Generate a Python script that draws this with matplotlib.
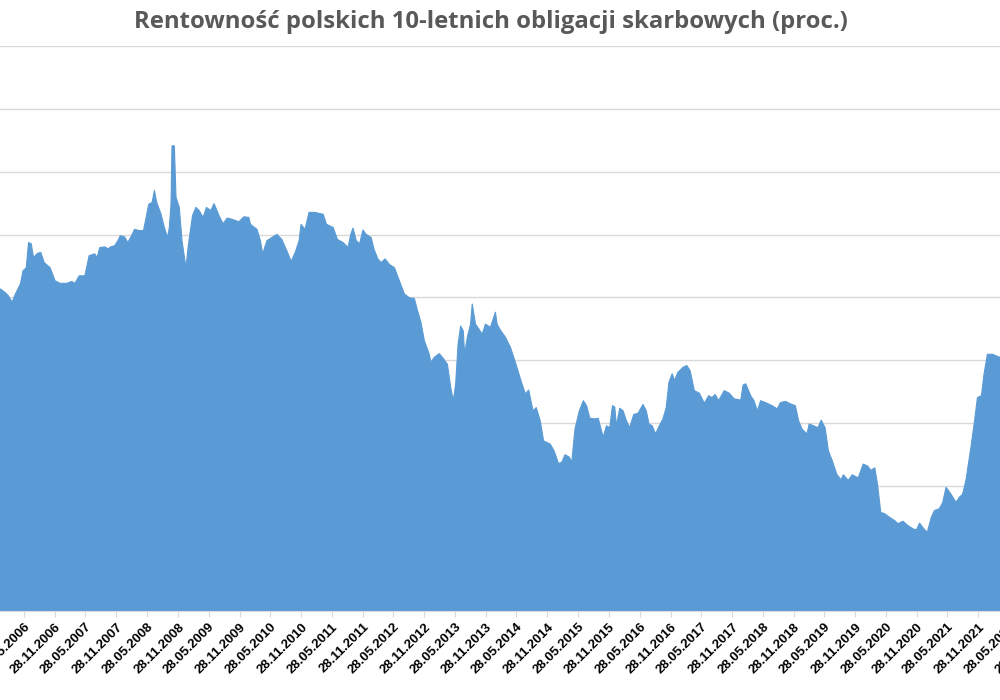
import pandas as pd
import matplotlib
matplotlib.use("Agg")
import matplotlib.pyplot as plt

# fractional years and yield in percent
years = [
    2006.016, 2006.096, 2006.145, 2006.205, 2006.258, 2006.339, 2006.382, 2006.435,
    2006.472, 2006.516, 2006.553, 2006.618, 2006.672, 2006.726, 2006.822, 2006.903,
    2006.984, 2007.092, 2007.174, 2007.226, 2007.295, 2007.387, 2007.456, 2007.548,
    2007.585, 2007.629, 2007.710, 2007.763, 2007.806, 2007.871, 2007.924, 2007.963,
    2008.032, 2008.085, 2008.156, 2008.193, 2008.274, 2008.339, 2008.382, 2008.424,
    2008.479, 2008.516, 2008.553, 2008.624, 2008.677, 2008.730, 2008.758, 2008.785,
    2008.801, 2008.839, 2008.866, 2008.919, 2008.963, 2009.027, 2009.069, 2009.134,
    2009.188, 2009.242, 2009.306, 2009.360, 2009.431, 2009.484, 2009.564, 2009.629,
    2009.698, 2009.779, 2009.887, 2009.968, 2010.048,
    2010.076, 2010.182, 2010.237, 2010.274, 2010.343, 2010.424, 2010.505, 2010.585,
    2010.666, 2010.737, 2010.802, 2010.866, 2010.898, 2010.963, 2011.027, 2011.124,
    2011.258, 2011.311, 2011.419, 2011.489, 2011.581, 2011.661, 2011.705, 2011.742,
    2011.795, 2011.850, 2011.903, 2011.956, 2012.037, 2012.081, 2012.145, 2012.198,
    2012.263, 2012.334, 2012.414, 2012.495, 2012.576, 2012.656, 2012.737, 2012.790,
    2012.844, 2012.898, 2012.979, 2013.005, 2013.060, 2013.140, 2013.194, 2013.274,
    2013.327, 2013.371, 2013.408, 2013.447, 2013.489, 2013.532, 2013.553, 2013.597,
    2013.650, 2013.677, 2013.731, 2013.786, 2013.839, 2013.892, 2013.973, 2014.054,
    2014.081,
    2014.131, 2014.217, 2014.298, 2014.379, 2014.459, 2014.540, 2014.595, 2014.664,
    2014.718, 2014.782, 2014.837, 2014.943, 2015.008, 2015.079, 2015.132, 2015.185,
    2015.256, 2015.294, 2015.347, 2015.418, 2015.483, 2015.536, 2015.589, 2015.670,
    2015.725, 2015.805, 2015.858, 2015.912, 2015.956, 2015.993, 2016.020, 2016.074,
    2016.128, 2016.182, 2016.235, 2016.300, 2016.370, 2016.451, 2016.504, 2016.548,
    2016.601, 2016.655, 2016.710, 2016.774, 2016.827, 2016.871, 2016.924, 2016.961,
    2017.016, 2017.097, 2017.161, 2017.215, 2017.284, 2017.365, 2017.446, 2017.516,
    2017.570, 2017.623, 2017.678, 2017.769, 2017.850, 2017.930, 2018.038, 2018.076,
    2018.119,
    2018.200, 2018.253, 2018.308, 2018.361, 2018.442, 2018.550, 2018.630, 2018.684,
    2018.764, 2018.845, 2018.926, 2018.979, 2019.034, 2019.114, 2019.151, 2019.221,
    2019.292, 2019.345, 2019.409, 2019.463, 2019.527, 2019.598, 2019.668, 2019.705,
    2019.786, 2019.850, 2019.947, 2020.028, 2020.099, 2020.152, 2020.216, 2020.260,
    2020.313, 2020.378, 2020.458, 2020.539, 2020.592, 2020.673, 2020.754, 2020.834,
    2020.889, 2020.942, 2020.995, 2021.066, 2021.131, 2021.184, 2021.264, 2021.318,
    2021.372, 2021.453, 2021.534, 2021.587, 2021.640, 2021.695, 2021.776, 2021.829,
    2021.882, 2021.947, 2021.990, 2022.044, 2022.125, 2022.250,
]

yields = [
    5.14, 5.08, 5.03, 4.93, 5.06, 5.22, 5.43, 5.48,
    5.88, 5.86, 5.64, 5.71, 5.72, 5.56, 5.48, 5.27,
    5.23, 5.23, 5.26, 5.23, 5.35, 5.35, 5.67, 5.70,
    5.64, 5.80, 5.81, 5.78, 5.81, 5.83, 5.91, 5.99,
    5.97, 5.88, 6.01, 6.09, 6.07, 6.07, 6.28, 6.49,
    6.52, 6.71, 6.52, 6.33, 6.12, 5.96, 6.12, 6.49,
    7.42, 7.42, 6.60, 6.44, 5.91, 5.48, 5.86, 6.31,
    6.44, 6.39, 6.28, 6.44, 6.39, 6.50, 6.31, 6.18,
    6.27, 6.25, 6.21, 6.29, 6.28,
    6.17, 6.09, 5.91, 5.70, 5.91, 5.96, 6.01, 5.93,
    5.75, 5.58, 5.72, 5.91, 6.17, 6.09, 6.36, 6.36,
    6.33, 6.17, 6.12, 5.93, 5.88, 5.80, 6.01, 6.11,
    5.91, 5.86, 6.08, 6.01, 5.96, 5.78, 5.62, 5.56,
    5.62, 5.53, 5.48, 5.27, 5.06, 5.00, 4.99, 4.79,
    4.61, 4.32, 4.10, 3.97, 4.05, 4.11, 4.05, 3.94,
    3.57, 3.36, 3.63, 4.26, 4.55, 4.47, 4.10, 4.37,
    4.58, 4.90, 4.58, 4.50, 4.42, 4.58, 4.53, 4.77,
    4.58,
    4.49, 4.37, 4.21, 3.97, 3.71, 3.47, 3.53, 3.20,
    3.25, 3.04, 2.72, 2.67, 2.56, 2.36, 2.38, 2.50,
    2.46, 2.38, 2.91, 3.20, 3.36, 3.28, 3.08, 3.07,
    3.08, 2.78, 2.96, 2.93, 3.28, 3.26, 2.96, 3.24,
    3.20, 3.04, 2.93, 3.14, 3.16, 3.30, 3.20, 2.99,
    2.96, 2.83, 2.95, 3.07, 3.25, 3.65, 3.79, 3.68,
    3.81, 3.89, 3.92, 3.84, 3.52, 3.48, 3.32, 3.44,
    3.41, 3.46, 3.36, 3.52, 3.48, 3.39, 3.37, 3.61,
    3.63,
    3.44, 3.36, 3.20, 3.36, 3.33, 3.28, 3.23, 3.33,
    3.35, 3.31, 3.28, 3.04, 2.91, 2.83, 2.99, 2.96,
    2.93, 3.05, 2.93, 2.56, 2.40, 2.19, 2.10, 2.18,
    2.09, 2.18, 2.13, 2.35, 2.32, 2.25, 2.29, 2.03,
    1.58, 1.56, 1.50, 1.45, 1.40, 1.44, 1.37, 1.32,
    1.30, 1.41, 1.34, 1.26, 1.50, 1.61, 1.64, 1.74,
    1.98, 1.87, 1.74, 1.82, 1.87, 2.09, 2.62, 2.99,
    3.41, 3.44, 3.79, 4.10, 4.10, 4.05,
]

tick_years = list(range(2006, 2023))
grid_levels = list(range(0, 10))


def to_date(t):
    y = int(t)
    start = pd.Timestamp(year=y, month=1, day=1)
    end = pd.Timestamp(year=y + 1, month=1, day=1)
    return start + (t - y) * (end - start)


dates = [to_date(t) for t in years]

ticks = []
labels = []
for y in tick_years:
    for m in (5, 11):
        d = pd.Timestamp(year=y, month=m, day=28)
        ticks.append(d)
        labels.append(d.strftime("%d.%m.%Y"))

fig = plt.figure(figsize=(10, 7), dpi=100)
ax = fig.add_axes([0.0, 0.127, 1.04, 0.807])

ax.fill_between(dates, yields, 0, color="#5b9bd5", linewidth=0.8,
                edgecolor="#5b9bd5", zorder=2)

ax.set_ylim(0, 9)
ax.set_xlim(to_date(2006.016), to_date(2022.795))

ax.set_yticks(grid_levels)
ax.yaxis.grid(True, color="#d9d9d9", linewidth=1.0, zorder=0)
ax.tick_params(axis="y", length=0, labelleft=False)

ax.set_xticks(ticks)
ax.set_xticklabels(labels, rotation=45, ha="right", rotation_mode="anchor",
                   fontsize=9.5, fontweight="bold", family="Liberation Sans",
                   color="black")
ax.tick_params(axis="x", length=4, color="#d9d9d9", pad=3)

for s in ["top", "left", "right"]:
    ax.spines[s].set_visible(False)
ax.spines["bottom"].set_color("#d9d9d9")

fig.text(0.491, 0.968, "Rentowność polskich 10-letnich obligacji skarbowych (proc.)",
         ha="center", va="center", fontsize=17.2, fontweight="bold",
         family="Open Sans", color="#595959")

fig.savefig("out.png", dpi=100)
